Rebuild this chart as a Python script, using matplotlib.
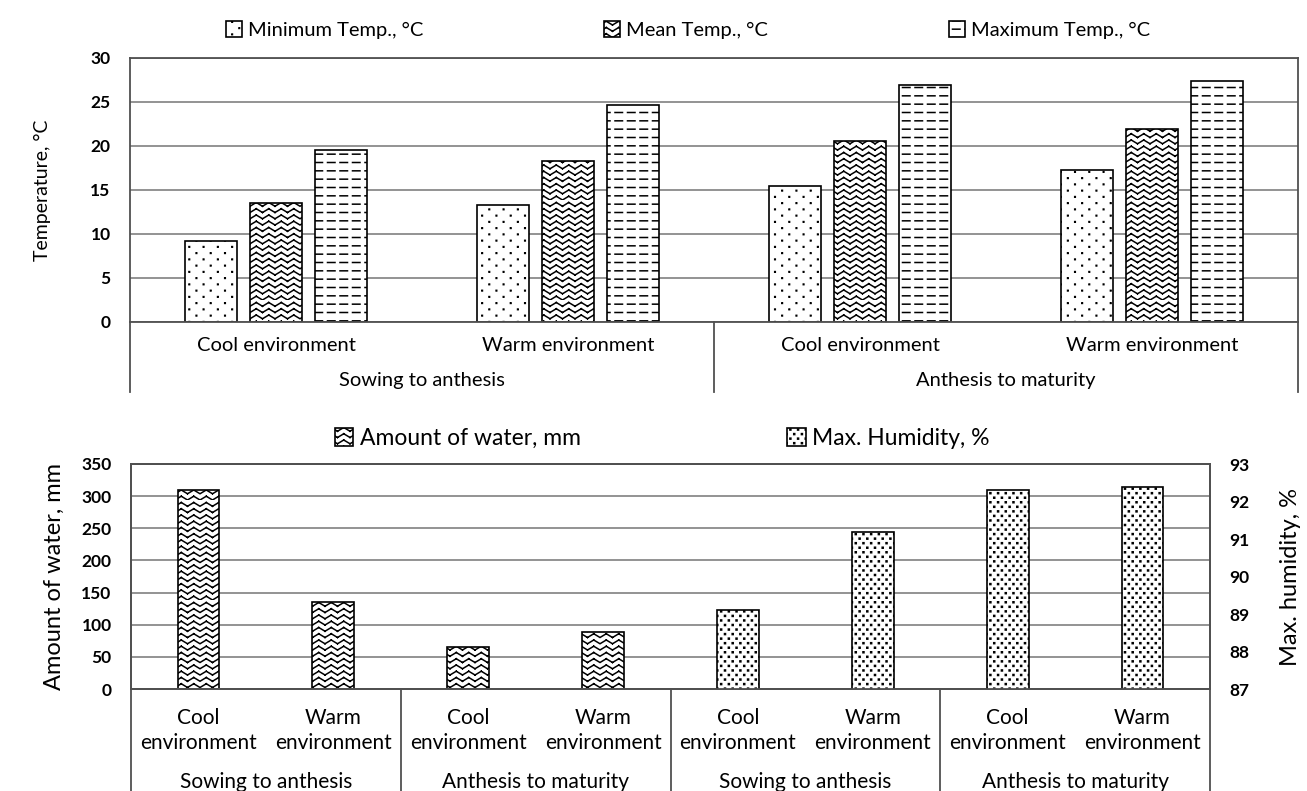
import warnings
import numpy as np
import matplotlib
matplotlib.use("Agg")
import matplotlib.pyplot as plt
import matplotlib.hatch as mhatch
import matplotlib.transforms as mtrans
from matplotlib.path import Path

warnings.filterwarnings("ignore")

# data
stages = ["Sowing to anthesis", "Anthesis to maturity"]
envs = ["Cool environment", "Warm environment"]
min_temp = [9.2, 13.3, 15.5, 17.3]
mean_temp = [13.5, 18.3, 20.6, 21.9]
max_temp = [19.5, 24.7, 26.9, 27.4]

water_stages = ["Sowing to anthesis", "Anthesis to maturity"]
hum_stages = ["Sowing to anthesis", "Anthesis to maturity"]
envs2 = ["Cool\nenvironment", "Warm\nenvironment"]
water = [310, 136, 66, 88]
humidity = [89.1, 91.2, 92.3, 92.4]


# extra hatch patterns: 'z' zigzag rows, 'd' dashed rows,
# 'p' sparse dots, 'q' dense dots
class ZigZagHatch(mhatch.HatchPatternBase):
    def __init__(self, hatch, density):
        self.num_lines = 16 if 'z' in hatch else 0
        self.nseg = 2 * 8
        self.num_vertices = self.num_lines * self.nseg * 2

    def set_vertices_and_codes(self, vertices, codes):
        xs = np.linspace(0, 1, self.nseg + 1)
        amp = 0.6 / max(self.num_lines, 1)
        k = 0
        for i in range(self.num_lines):
            y0 = i / self.num_lines
            ys = y0 + amp * (np.arange(self.nseg + 1) % 2)
            for j in range(self.nseg):
                vertices[k] = (xs[j], ys[j])
                vertices[k + 1] = (xs[j + 1], ys[j + 1])
                codes[k] = Path.MOVETO
                codes[k + 1] = Path.LINETO
                k += 2


class DashHatch(mhatch.HatchPatternBase):
    def __init__(self, hatch, density):
        self.num_lines = int(hatch.count('d') * density)
        self.num_dashes = 8
        self.num_vertices = self.num_lines * self.num_dashes * 2

    def set_vertices_and_codes(self, vertices, codes):
        k = 0
        for i in range(self.num_lines):
            y = (i + 0.5) / self.num_lines
            for j in range(self.num_dashes):
                x0 = (j + 0.2) / self.num_dashes
                vertices[k] = (x0, y)
                vertices[k + 1] = (x0 + 0.6 / self.num_dashes, y)
                codes[k] = Path.MOVETO
                codes[k + 1] = Path.LINETO
                k += 2


class DotHatch(mhatch.HatchPatternBase):
    char = 'p'
    rows = 16
    cols = 7
    size = 0.003

    def __init__(self, hatch, density):
        self.on = hatch.count(self.char) > 0
        self.num_vertices = self.rows * self.cols * 5 if self.on else 0

    def set_vertices_and_codes(self, vertices, codes):
        s = self.size
        sq = np.array([[-s, -s], [s, -s], [s, s], [-s, s], [-s, -s]])
        k = 0
        for i in range(self.rows):
            y = (i + 0.5) / self.rows
            shift = 0.5 if i % 2 else 0.0
            for j in range(self.cols):
                xc = (j + 0.25 + shift) / self.cols
                vertices[k:k + 5] = sq + (xc, y)
                codes[k:k + 5] = [Path.MOVETO, Path.LINETO, Path.LINETO,
                                  Path.LINETO, Path.CLOSEPOLY]
                k += 5


class DenseDotHatch(DotHatch):
    char = 'q'
    rows = 22
    cols = 13
    size = 0.005


mhatch._hatch_types.extend([ZigZagHatch, DashHatch, DotHatch, DenseDotHatch])

plt.rcParams['font.family'] = ['Lato', 'DejaVu Sans']
plt.rcParams['hatch.linewidth'] = 1.1

GRID = '#8a8a8a'
SPINE = '#505050'
W, H = 1307, 791

fig = plt.figure(figsize=(W / 100, H / 100), dpi=100)


def frame(ax):
    for s in ax.spines.values():
        s.set_color(SPINE)
        s.set_linewidth(1.3)
    ax.yaxis.grid(True, color=GRID, lw=1.3)
    ax.set_axisbelow(True)


# ---------------- top chart ----------------
ax1 = fig.add_axes([130 / W, 1 - 322 / H, 1168 / W, 264 / H])
x = np.arange(len(min_temp))
bw = 0.178
step = 0.222
bkw = dict(width=bw, color='white', edgecolor='black', linewidth=1.2)
ax1.bar(x - step, min_temp, hatch='p', label='Minimum Temp., °C', **bkw)
ax1.bar(x, mean_temp, hatch='z', label='Mean Temp., °C', **bkw)
ax1.bar(x + step, max_temp, hatch='dd', label='Maximum Temp., °C', **bkw)
ax1.set_xlim(-0.5, len(x) - 0.5)
ax1.set_ylim(0, 30)
ax1.set_yticks(range(0, 31, 5))
frame(ax1)
ax1.tick_params(axis='y', length=0, pad=14, labelsize=12.5)
for t in ax1.get_yticklabels():
    t.set_fontweight('bold')
ax1.set_xticks(x)
ax1.set_xticklabels(envs * len(stages), fontsize=14.5)
ax1.tick_params(axis='x', length=0, pad=11)
ax1.set_ylabel('Temperature, °C', fontsize=14, labelpad=28)

tr1 = mtrans.blended_transform_factory(ax1.transData, ax1.transAxes)
for i, st in enumerate(stages):
    ax1.text(2 * i + 0.5, -0.22, st, transform=tr1, ha='center', va='center',
             fontsize=14.5)
for b in np.arange(-0.5, len(x), 2):
    ax1.plot([b, b], [0, -0.265], transform=tr1, clip_on=False,
             color=SPINE, lw=1.3)

fig.legend(*ax1.get_legend_handles_labels(), loc='lower left', ncol=3,
           bbox_to_anchor=(226 / W, 1 - 39 / H, (1150 - 226) / W, 0.02),
           mode='expand', frameon=False, fontsize=14.5, handlelength=0.8,
           handleheight=0.8, handletextpad=0.3, borderpad=0, borderaxespad=0)

# ---------------- bottom chart ----------------
ax2 = fig.add_axes([131 / W, 1 - 689 / H, 1079 / W, 225 / H])
ax3 = ax2.twinx()
xw = np.arange(len(water))
xh = np.arange(len(humidity)) + len(water)
bw2 = 0.31
ax2.bar(xw, water, width=bw2, color='white', edgecolor='black', lw=1.2,
        hatch='z', label='Amount of water, mm')
ax3.bar(xh, humidity, width=bw2, color='white', edgecolor='black', lw=1.2,
        hatch='q', label='Max. Humidity, %')
ax2.set_xlim(-0.5, len(water) + len(humidity) - 0.5)
ax2.set_ylim(0, 350)
ax2.set_yticks(range(0, 351, 50))
ax3.set_ylim(87, 93)
ax3.set_yticks(range(87, 94))
frame(ax2)
for s in ax3.spines.values():
    s.set_color(SPINE)
    s.set_linewidth(1.3)
ax2.tick_params(axis='y', length=0, pad=14, labelsize=12.5)
ax3.tick_params(axis='y', length=0, pad=14, labelsize=12.5)
for t in ax2.get_yticklabels() + ax3.get_yticklabels():
    t.set_fontweight('bold')
xall = np.concatenate([xw, xh])
ax2.set_xticks(xall)
ax2.set_xticklabels(envs2 * (len(xall) // 2), fontsize=15, linespacing=1.3)
ax2.tick_params(axis='x', length=0, pad=14)
ax2.set_ylabel('Amount of water, mm', fontsize=17, labelpad=12)
ax3.set_ylabel('Max. humidity, %', fontsize=17, labelpad=22)

tr2 = mtrans.blended_transform_factory(ax2.transData, ax2.transAxes)
groups2 = water_stages + hum_stages
for i, st in enumerate(groups2):
    ax2.text(2 * i + 0.5, -0.415, st, transform=tr2, ha='center',
             va='center', fontsize=15)
for b in np.arange(-0.5, len(xall), 2):
    ax2.plot([b, b], [0, -0.46], transform=tr2, clip_on=False,
             color=SPINE, lw=1.3)

h2, l2 = ax2.get_legend_handles_labels()
h3, l3 = ax3.get_legend_handles_labels()
fig.legend(h2 + h3, l2 + l3, loc='lower left', ncol=2,
           bbox_to_anchor=(335 / W, 1 - 449 / H, (990 - 335) / W, 0.02),
           mode='expand', frameon=False, fontsize=16.5, handlelength=0.8,
           handleheight=0.8, handletextpad=0.3, borderpad=0, borderaxespad=0)

fig.savefig('out.png', dpi=100)
